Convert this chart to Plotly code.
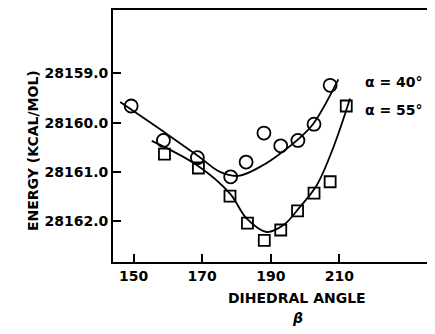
import plotly.graph_objects as go

# alpha = 40 deg (circles)
circle_x = [149.3, 158.7, 168.6, 178.3, 182.8, 188.0, 192.9, 197.9, 202.6, 207.3]
circle_y = [28159.66, 28160.36, 28160.71, 28161.10, 28160.80, 28160.21, 28160.47, 28160.36, 28160.03, 28159.24]

# alpha = 55 deg (squares)
square_x = [159.0, 168.9, 178.1, 183.2, 188.1, 192.9, 197.8, 202.6, 207.3, 212.0]
square_y = [28160.64, 28160.92, 28161.49, 28162.04, 28162.39, 28162.18, 28161.79, 28161.43, 28161.20, 28159.66]

# fitted curves
curve40_x = [146.1, 158.7, 168.9, 175.2, 180.6, 187.8, 192.7, 197.6, 202.4, 209.7]
curve40_y = [28159.58, 28160.18, 28160.68, 28161.00, 28161.08, 28160.86, 28160.63, 28160.36, 28160.02, 28159.12]
curve55_x = [155.3, 168.4, 178.1, 183.0, 188.8, 193.7, 198.5, 203.4, 208.3, 213.1]
curve55_y = [28160.37, 28160.86, 28161.44, 28161.95, 28162.22, 28162.08, 28161.71, 28161.27, 28160.49, 28159.51]

x_ticks = [150, 170, 190, 210]
y_ticks = [28159.0, 28160.0, 28161.0, 28162.0]
y_ticklabels = ["28159.0", "28160.0", "28161.0", "28162.0"]

FONT = "DejaVu Sans"
TXT = dict(family=FONT, size=14, color="black", weight="bold")

# page offset (browser body margin) compensation
OFF = 8
W, H = 435, 334
ml, mr, mt, mb = 113 - OFF, 0, 10 - OFF, 334 - (262 - OFF)
pw, ph = W - ml - mr, H - mt - mb


def px(xp):
    return (xp - OFF - ml) / pw


def py(yp):
    return (H - mb - (yp - OFF)) / ph


fig = go.Figure()
fig.add_trace(go.Scatter(x=curve40_x, y=curve40_y, mode="lines",
                         line=dict(color="black", width=1.8, shape="spline", smoothing=1.0),
                         hoverinfo="skip"))
fig.add_trace(go.Scatter(x=curve55_x, y=curve55_y, mode="lines",
                         line=dict(color="black", width=1.8, shape="spline", smoothing=1.0),
                         hoverinfo="skip"))
fig.add_trace(go.Scatter(x=circle_x, y=circle_y, mode="markers",
                         marker=dict(symbol="circle-open", size=13, color="black",
                                     line=dict(width=1.8, color="black"))))
fig.add_trace(go.Scatter(x=square_x, y=square_y, mode="markers",
                         marker=dict(symbol="square-open", size=11, color="black",
                                     line=dict(width=1.8, color="black"))))

fig.update_layout(
    width=W, height=H,
    margin=dict(l=ml, r=mr, t=mt, b=mb),
    paper_bgcolor="white", plot_bgcolor="white",
    showlegend=False,
    font=dict(family=FONT, color="black", size=13),
    xaxis=dict(range=[144, 240.2], tickvals=x_ticks, ticks="inside", ticklen=8,
               tickwidth=1.6, tickcolor="black", showline=True, linecolor="black",
               linewidth=2, mirror=True, showgrid=False, zeroline=False,
               tickfont=TXT),
    yaxis=dict(range=[28162.83, 28157.71], tickvals=y_ticks, ticktext=y_ticklabels,
               ticks="inside", ticklen=8, tickwidth=1.6, tickcolor="black",
               showline=True, linecolor="black", linewidth=2, showgrid=False,
               zeroline=False, tickfont=TXT),
)

fig.add_annotation(x=216.9, y=28159.18, xref="x", yref="y", text="α = 40°", showarrow=False,
                   xanchor="left", yanchor="middle", font=TXT)
fig.add_annotation(x=216.9, y=28159.75, xref="x", yref="y", text="α = 55°", showarrow=False,
                   xanchor="left", yanchor="middle", font=TXT)
fig.add_annotation(x=px(23), y=py(151), xref="paper", yref="paper", text="ENERGY (KCAL/MOL)",
                   showarrow=False, textangle=-90, font=TXT)
fig.add_annotation(x=px(297), y=py(308), xref="paper", yref="paper", text="DIHEDRAL ANGLE",
                   showarrow=False, font=TXT)
fig.add_annotation(x=px(297), y=py(328), xref="paper", yref="paper", text="<i>β</i>",
                   showarrow=False, font=TXT)

fig.write_html("out.html")
